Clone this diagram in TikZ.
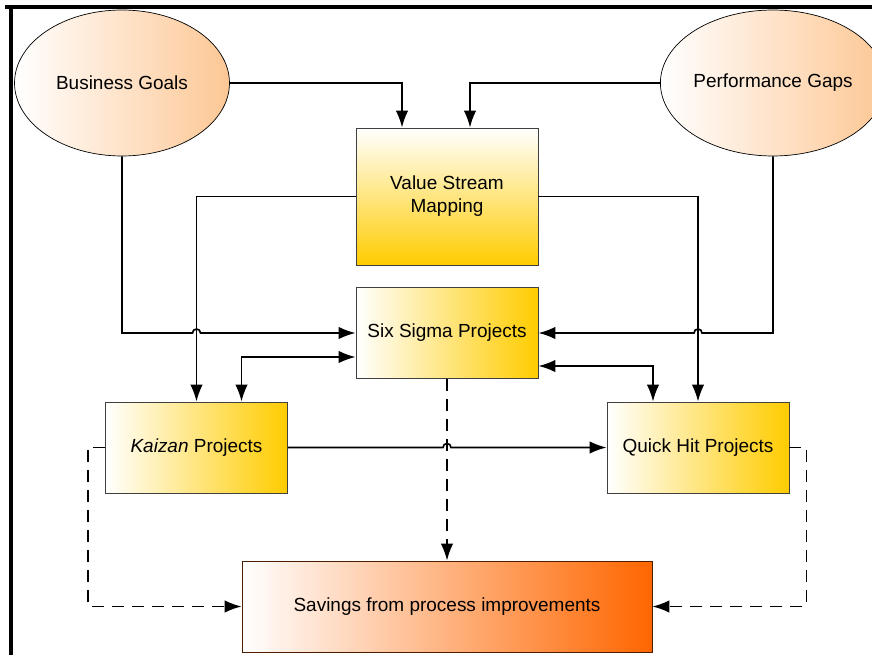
\documentclass[tikz,border=0pt]{standalone}
\usepackage{fontspec}
\setmainfont{Liberation Sans}
\usepackage{tikz}
\usetikzlibrary{calc, shapes.geometric, arrows.meta}
\definecolor{gold}{HTML}{FFCC00}
\definecolor{peach}{HTML}{FDC794}
\definecolor{burnt}{HTML}{FF6600}

\begin{document}
\begin{tikzpicture}[x=0.02cm, y=-0.02cm,
		font=\fontsize{10.8}{13}\selectfont,
		goal/.style={ellipse, draw=black, line width=0.4pt, left color=white, right color=peach,
			inner sep=0pt, minimum width=4.3cm, minimum height=2.92cm},
		proj/.style={draw=black!75, line width=0.5pt, left color=white, right color=gold,
			minimum width=3.64cm, minimum height=1.82cm, align=center},
		conn/.style={line width=0.95pt},
		arr/.style={conn, -{Latex[length=0.34cm, width=0.25cm]}},
		arrboth/.style={conn, {Latex[length=0.34cm, width=0.25cm]}-{Latex[length=0.34cm, width=0.25cm]}},
		dasharr/.style={arr, dash pattern=on 0.24cm off 0.16cm}]
		\useasboundingbox (0,0) rectangle (872,655);

		% frame of the surrounding cell
		\draw[line width=2.2pt] (5,7) -- (872,7);
		\draw[line width=2.2pt] (11,7) -- (11,655);

		\node[goal] (bg) at (122, 83) {Business Goals};
		\node[goal] (pg) at (773, 83) {Performance Gaps};

		\node[proj, top color=white, bottom color=gold, minimum height=2.74cm] (vsm) at (447, 196.5) {Value Stream\\Mapping};
		\node[proj] (ss) at (447, 333) {Six Sigma Projects};
		\node[proj] (kz) at (196.5, 447.5) {\textit{Kaizan} Projects};
		\node[proj] (qh) at (698, 447.5) {Quick Hit Projects};
		\node[proj, draw=black!70!burnt, right color=burnt, minimum width=8.2cm] (sv) at (447, 606.5) {Savings from process improvements};

		% inputs to value stream mapping
		\draw[arr] (bg.east) -| ($(vsm.north)+(-45,0)$);
		\draw[arr] (pg.west) -| ($(vsm.north)+(23,0)$);

		% inputs to six sigma, hopping over the lines from VSM
		\draw[arr] (bg.south) |- ($(kz.north |- ss.west)+(-4,0)$)
			arc[start angle=180, end angle=360, radius=4] -- (ss.west);
		\draw[arr] (pg.south) |- ($(qh.north |- ss.east)+(4,0)$)
			arc[start angle=0, end angle=-180, radius=4] -- (ss.east);

		\draw[arr] (vsm.west) -| (kz.north);
		\draw[arr] (vsm.east) -| (qh.north);

		\draw[arrboth] ($(ss.west)+(0,24)$) -| ($(kz.north)+(45,0)$);
		\draw[arrboth] ($(ss.east)+(0,33)$) -| ($(qh.north)+(-45,0)$);

		\draw[arr] (kz.east) -- ($(ss.south |- kz.east)+(-4,0)$)
			arc[start angle=180, end angle=360, radius=4] -- (qh.west);

		% savings
		\draw[dasharr] (ss.south) -- (sv.north);
		\draw[dasharr] (kz.west) -- ++(-17,0) |- (sv.west);
		\draw[dasharr] (qh.east) -- ++(17,0) |- (sv.east);
	\end{tikzpicture}
\end{document}
